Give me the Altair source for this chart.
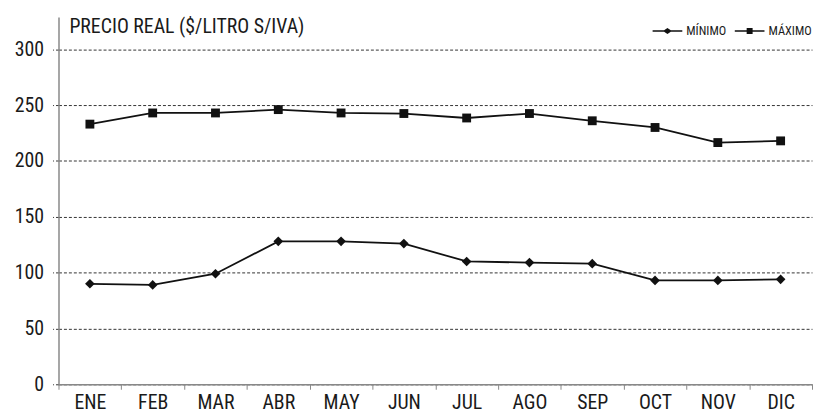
import altair as alt
import pandas as pd

months = ["ENE", "FEB", "MAR", "ABR", "MAY", "JUN", "JUL", "AGO", "SEP", "OCT", "NOV", "DIC"]
minimo = [90, 89, 99, 128, 128, 126, 110, 109, 108, 93, 93, 94]
maximo = [233, 243, 243, 246, 243, 242.5, 238.5, 242.5, 236, 230, 216.5, 218]
series_names = ["MÍNIMO", "MÁXIMO"]
y_ticks = [0, 50, 100, 150, 200, 250, 300]

rows = []
for m, a, b in zip(months, minimo, maximo):
    rows.append({"mes": m, "serie": "MÍNIMO", "valor": a})
    rows.append({"mes": m, "serie": "MÁXIMO", "valor": b})
df = pd.DataFrame(rows)

FONT = "Roboto Condensed"

x = alt.X("mes:N", sort=months, title=None,
          scale=alt.Scale(paddingInner=0, paddingOuter=0),
          axis=alt.Axis(labelAngle=0, tickBand="extent", labelFontSize=20,
                        labelFont=FONT, labelColor="#1a1a1a", tickColor="#888",
                        tickSize=5, domainColor="#888", domainWidth=1.5,
                        labelPadding=3, grid=False))
y = alt.Y("valor:Q", title=None,
          scale=alt.Scale(domain=[0, 329], nice=False, zero=True),
          axis=alt.Axis(values=y_ticks, labelFontSize=20, labelFont=FONT,
                        labelColor="#1a1a1a", grid=True, gridDash=[3, 2],
                        gridColor="#333", gridWidth=1, tickSize=6,
                        tickDash=[3, 2], tickColor="#333", labelPadding=9,
                        domainColor="#888", domainWidth=1.5))

base = alt.Chart(df)

lines = base.mark_line(color="#111", strokeWidth=1.8).encode(
    x=x, y=y, detail="serie:N")

points = base.mark_point(filled=True, color="#111", opacity=1).encode(
    x=x, y=y,
    shape=alt.Shape("serie:N", scale=alt.Scale(domain=series_names,
                                               range=["diamond", "square"]),
                    legend=None),
    size=alt.Size("serie:N", scale=alt.Scale(domain=series_names, range=[95, 80]),
                  legend=None))

legend_paths = [
    "M-1,-0.05H1V0.05H-1ZM0,-0.2L0.3,0L0,0.2L-0.3,0Z",
    "M-1,-0.05H1V0.05H-1ZM-0.2,-0.2H0.2V0.2H-0.2Z",
]

legend_layer = base.mark_point(filled=True, color="#111", opacity=1).encode(
    x=x, y=y,
    shape=alt.Shape("serie:N",
                    scale=alt.Scale(domain=series_names, range=legend_paths),
                    legend=alt.Legend(title=None, orient="none", direction="horizontal",
                                      legendX=599, legendY=-2, symbolSize=900,
                                      padding=0, labelFont=FONT, labelFontSize=12.5,
                                      labelColor="#1a1a1a", labelOffset=3,
                                      columnPadding=5))
).transform_filter("false")

chart = alt.layer(lines, points, legend_layer).resolve_scale(
    shape="independent"
).properties(
    width=761, height=371,
    title=alt.TitleParams("PRECIO REAL ($/LITRO S/IVA)", anchor="start",
                          font=FONT, fontSize=20, fontWeight="normal",
                          color="#1a1a1a", baseline="alphabetic", offset=0,
                          dx=11, dy=38, frame="group"),
    autosize=alt.AutoSizeParams(type="none"),
    padding={"left": 51, "top": 7, "right": 2, "bottom": 30},
).configure_view(stroke=None)

chart.save("out.html", embed_options={"renderer": "svg", "actions": False})
